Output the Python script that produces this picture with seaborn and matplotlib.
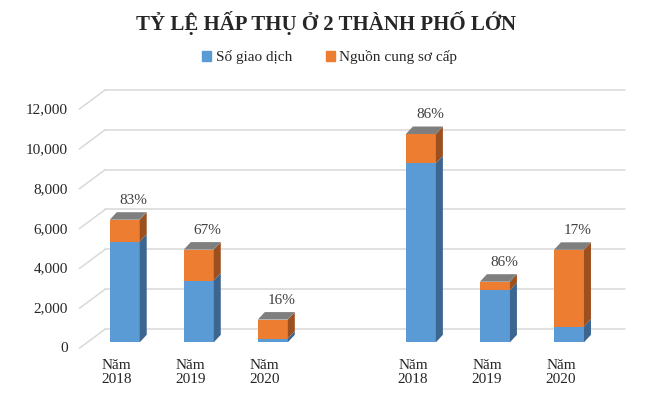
import pandas as pd
import matplotlib.pyplot as plt
import seaborn as sns
from matplotlib.patches import Polygon, Patch
from matplotlib.lines import Line2D
from matplotlib.transforms import ScaledTranslation, IdentityTransform

sns.set_style("white")
plt.rcParams['font.family'] = ['Liberation Serif', 'DejaVu Serif']

# Dữ liệu
thanh_pho = ["TP1", "TP1", "TP1", "TP2", "TP2", "TP2"]
nam = ["2018", "2019", "2020", "2018", "2019", "2020"]
so_giao_dich = [5050, 3100, 190, 8980, 2620, 790]
nguon_cung = [1100, 1550, 950, 1470, 420, 3850]
ty_le = ["83%", "67%", "16%", "86%", "86%", "17%"]
y_ticks = [0, 2000, 4000, 6000, 8000, 10000, 12000]

df = pd.DataFrame({"tp": thanh_pho, "nam": nam,
                   "giao_dich": so_giao_dich, "nguon_cung": nguon_cung})
df["key"] = df["tp"] + " " + df["nam"]
df["tong"] = df["giao_dich"] + df["nguon_cung"]
order = list(df["key"][:3]) + [" "] + list(df["key"][3:])

# màu kiểu Excel
c_blue, c_orange = "#5b9bd5", "#ed7d31"
c_blue_side, c_orange_side, c_top = "#3c6590", "#9c5020", "#7f7f7f"
DX, DY = 7, 7.5  # độ sâu 3D (pixel)

fig = plt.figure(figsize=(6.53, 3.98), dpi=100)
W, H = 653, 398
ax = fig.add_axes([80.3 / W, (H - 342.3) / H, (606 - 80.3) / W, 239.2 / H])

sns.barplot(data=df, x="key", y="tong", order=order, color=c_orange,
            width=0.405, saturation=1, linewidth=0, ax=ax, zorder=2)
n_tong = len(ax.patches)
sns.barplot(data=df, x="key", y="giao_dich", order=order, color=c_blue,
            width=0.405, saturation=1, linewidth=0, ax=ax, zorder=2)
ax.set_xlim(-0.6, 6.5)
ax.set_ylim(0, 12000)

bars_blue = [p for p in ax.patches[n_tong:] if p.get_height() > 0]
bars_blue.sort(key=lambda p: p.get_x())

disp = ax.transData.transform
ident = IdentityTransform()

# lưới ở tường sau + cạnh nghiêng bên trái
for v in y_ticks:
    xl, yv = disp((ax.get_xlim()[0], v))
    xr, _ = disp((ax.get_xlim()[1], v))
    ax.add_line(Line2D([xl + 25, xr + 19], [yv + 13.3, yv + 13.3], color="#d9d9d9",
                       lw=1.1, transform=ident, clip_on=False, zorder=0.5))
    ax.add_line(Line2D([xl - 1, xl + 25], [yv - 6, yv + 13.3], color="#d9d9d9",
                       lw=1.1, transform=ident, clip_on=False, zorder=0.5))

# mặt bên, mặt trên và nhãn %
for p, gd, tong, lab in zip(bars_blue, df["giao_dich"], df["tong"], ty_le):
    x0 = p.get_x()
    x1 = x0 + p.get_width()
    X0, Y0 = disp((x0, 0))
    X1, Yb = disp((x1, gd))
    _, Yt = disp((x1, tong))
    faces = [
        ([(X1, Y0), (X1, Yb), (X1 + DX, Yb + DY), (X1 + DX, Y0 + DY)], c_blue_side),
        ([(X1, Yb), (X1, Yt), (X1 + DX, Yt + DY), (X1 + DX, Yb + DY)], c_orange_side),
        ([(X0, Yt), (X1, Yt), (X1 + DX, Yt + DY), (X0 + DX, Yt + DY)], c_top),
    ]
    for pts, col in faces:
        ax.add_patch(Polygon(pts, closed=True, facecolor=col, edgecolor="none",
                             transform=ident, clip_on=False, zorder=2))
    ax.text((X0 + X1) / 2 + 9, Yt + DY + 11.5, lab, transform=ident,
            ha="center", va="center", fontsize=11, color="#404040")

# trục
ax.set_xticks(range(len(order)))
ax.set_xticklabels(["" if k == " " else "Năm\n" + k.split()[1] for k in order],
                   fontsize=11, linespacing=1.1)
ax.set_yticks(y_ticks)
ax.set_yticklabels([f"{v:,}" for v in y_ticks], fontsize=11)
ax.set_xlabel("")
ax.set_ylabel("")
ax.tick_params(axis="x", length=0, pad=7.5)
ax.tick_params(axis="y", length=0, pad=9)
sns.despine(ax=ax, left=True, bottom=True)
ax.patch.set_visible(False)

for t in ax.get_xticklabels():
    t.set_transform(t.get_transform() + ScaledTranslation(-8 / 100, -6 / 100, fig.dpi_scale_trans))
for t in ax.get_yticklabels():
    t.set_transform(t.get_transform() + ScaledTranslation(0, -5 / 100, fig.dpi_scale_trans))

fig.text(0.5, 1 - 23 / H, "TỶ LỆ HẤP THỤ Ở 2 THÀNH PHỐ LỚN", ha="center",
         va="center", fontsize=15, fontweight="bold")
handles = [Patch(color=c_blue, label="Số giao dịch"),
           Patch(color=c_orange, label="Nguồn cung sơ cấp")]
fig.legend(handles=handles, loc="center", bbox_to_anchor=(0.505, 1 - 57.5 / H),
           ncol=2, frameon=False, fontsize=11, handlelength=0.6, handleheight=0.6,
           handletextpad=0.3, columnspacing=2.2)

fig.savefig("out.png", dpi=100)
